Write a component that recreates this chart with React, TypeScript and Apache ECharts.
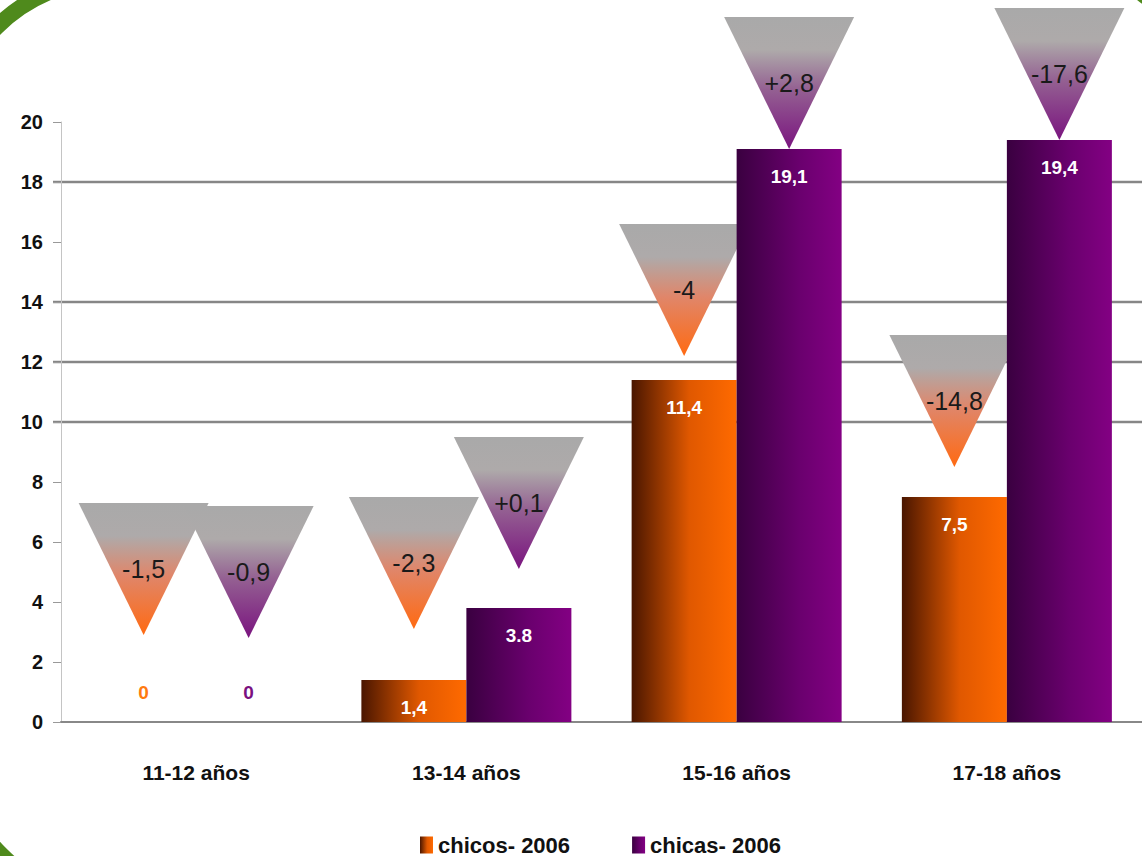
import React, { useEffect, useRef } from "react";
import * as echarts from "echarts";

const categories = ["11-12 años", "13-14 años", "15-16 años", "17-18 años"];
const chicos = [0, 1.4, 11.4, 7.5];
const chicas = [0, 3.8, 19.1, 19.4];
const chicosLabels = ["0", "1,4", "11,4", "7,5"];
const chicasLabels = ["0", "3.8", "19,1", "19,4"];
const chicosChange = ["-1,5", "-2,3", "-4", "-14,8"];
const chicasChange = ["-0,9", "+0,1", "+2,8", "-17,6"];
const chicosMarker = [2.9, 3.1, 12.2, 8.5];
const chicasMarker = [2.8, 5.1, 19.1, 19.4];
const gridValues = [18, 14, 12, 10];
const seriesNames = ["chicos- 2006", "chicas- 2006"];

const FONT = "'Liberation Sans', Arial, sans-serif";
const BAR_W = 105;

const orangeBar = () =>
  new echarts.graphic.LinearGradient(0, 0, 1, 0, [
    { offset: 0, color: "#4a1600" },
    { offset: 0.55, color: "#e05800" },
    { offset: 1, color: "#ff6a00" },
  ]);
const purpleBar = () =>
  new echarts.graphic.LinearGradient(0, 0, 1, 0, [
    { offset: 0, color: "#3a0040" },
    { offset: 0.6, color: "#6a006e" },
    { offset: 1, color: "#830083" },
  ]);

function triangleSeries(name: string, markers: number[], texts: string[], side: number, bottomColor: string, midColor: string) {
  return {
    name,
    type: "custom",
    z: 1,
    silent: true,
    clip: false,
    encode: { x: 0, y: 1 },
    data: markers.map((v, i) => [i, v]),
    renderItem: (params: any, api: any) => {
      const ci = api.value(0);
      const v = api.value(1);
      const p = api.coord([ci, v]);
      const x = p[0] + side * (BAR_W / 2);
      const tipY = p[1];
      const w = 130;
      const h = 132;
      return {
        type: "group",
        children: [
          {
            type: "polygon",
            shape: { points: [[x - w / 2, tipY - h], [x + w / 2, tipY - h], [x, tipY]] },
            style: {
              fill: new echarts.graphic.LinearGradient(0, 0, 0, 1, [
                { offset: 0, color: "#a9a9a9" },
                { offset: 0.25, color: "#aeaaaa" },
                { offset: 0.55, color: midColor },
                { offset: 1, color: bottomColor },
              ]),
            },
          },
          {
            type: "text",
            style: {
              text: texts[params.dataIndex],
              x,
              y: tipY - h + 66,
              align: "center",
              verticalAlign: "middle",
              fontSize: 25,
              fontFamily: FONT,
              fill: "#1a1a1a",
            },
          },
        ],
      };
    },
  };
}

export default function App() {
  const ref = useRef<HTMLDivElement>(null);
  useEffect(() => {
    document.body.style.margin = "0";
    const chart = echarts.init(ref.current!, undefined, { renderer: "svg" });
    const barLabel = (labels: string[]) => ({
      show: true,
      position: "insideTop",
      distance: 18,
      color: "#ffffff",
      fontSize: 19,
      fontWeight: "bold",
      fontFamily: FONT,
      formatter: (p: any) => labels[p.dataIndex],
    });
    const makeData = (vals: number[], zeroColor: string) =>
      vals.map((v) =>
        v === 0
          ? { value: v, label: { position: "top", color: zeroColor, distance: 20 } }
          : { value: v }
      );
    chart.setOption({
      animation: false,
      backgroundColor: "#ffffff",
      textStyle: { fontFamily: FONT },
      grid: { left: 61, top: 122, width: 1088, height: 600 },
      legend: {
        left: 415,
        top: 829,
        itemWidth: 13,
        itemHeight: 17,
        itemGap: 62,
        data: seriesNames,
        icon: "rect",
        textStyle: { fontSize: 22, fontWeight: "bold", color: "#111", fontFamily: FONT },
      },
      xAxis: {
        type: "category",
        data: categories,
        axisLine: { lineStyle: { color: "#888", width: 2 } },
        axisTick: { show: false },
        axisLabel: { margin: 40, fontSize: 21, fontWeight: "bold", color: "#111", fontFamily: FONT },
      },
      yAxis: {
        type: "value",
        min: 0,
        max: 20,
        interval: 2,
        splitLine: { show: false },
        axisLine: { show: true, lineStyle: { color: "#c4c4c4", width: 1 } },
        axisTick: { show: true, length: 8, lineStyle: { color: "#999" } },
        axisLabel: { margin: 18, fontSize: 20, fontWeight: "bold", color: "#111", fontFamily: FONT },
      },
      graphic: [
        { type: "arc", shape: { cx: 110, cy: 140, r: 160, startAngle: Math.PI, endAngle: Math.PI * 1.5 }, style: { stroke: "#4f8a1c", lineWidth: 16, fill: "none" } },
        { type: "arc", shape: { cx: 1032, cy: 140, r: 184, startAngle: Math.PI * 1.5, endAngle: Math.PI * 2 }, style: { stroke: "#4f8a1c", lineWidth: 18, fill: "none" } },
        { type: "arc", shape: { cx: 130, cy: 726, r: 183, startAngle: Math.PI * 0.5, endAngle: Math.PI }, style: { stroke: "#4f8a1c", lineWidth: 18, fill: "none" } },
      ],
      series: [
        {
          name: "grid-lines",
          type: "custom",
          z: 0,
          silent: true,
          encode: { x: 0, y: 1 },
          data: gridValues.map((v) => [0, v]),
          renderItem: (params: any, api: any) => {
            const y = api.coord([0, api.value(1)])[1];
            const cs = params.coordSys;
            return {
              type: "line",
              shape: { x1: cs.x - 8, y1: y, x2: cs.x + cs.width, y2: y },
              style: { stroke: "#868686", lineWidth: 2.5 },
            };
          },
        },
        triangleSeries("tri-chicos", chicosMarker, chicosChange, -1, "#ff6a12", "#e0866a"),
        triangleSeries("tri-chicas", chicasMarker, chicasChange, 1, "#7a147f", "#946092"),
        {
          name: seriesNames[0],
          type: "bar",
          z: 2,
          barWidth: BAR_W,
          barGap: "0%",
          itemStyle: { color: orangeBar() },
          label: barLabel(chicosLabels),
          data: makeData(chicos, "#ff7a10"),
        },
        {
          name: seriesNames[1],
          type: "bar",
          z: 2,
          barWidth: BAR_W,
          barGap: "0%",
          itemStyle: { color: purpleBar() },
          label: barLabel(chicasLabels),
          data: makeData(chicas, "#7a1080"),
        },
      ],
    });
    return () => chart.dispose();
  }, []);
  return <div ref={ref} style={{ width: 1142, height: 856, position: "absolute", left: 0, top: 0 }} />;
}
